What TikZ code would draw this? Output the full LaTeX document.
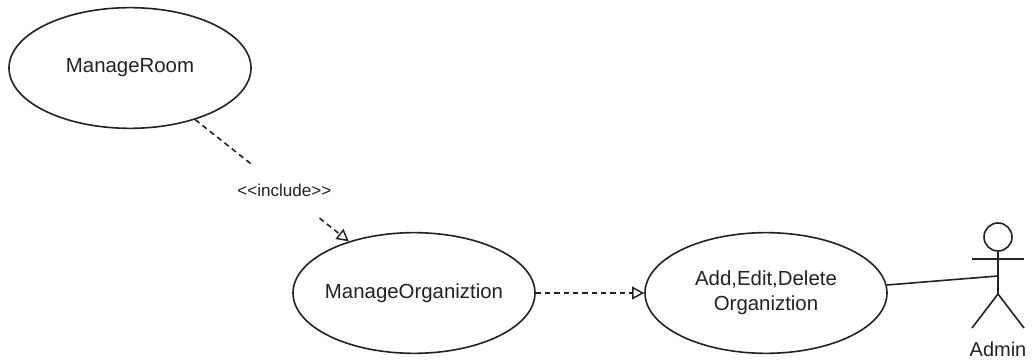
\documentclass[tikz,border=0pt]{standalone}
\usepackage{fontspec}
\setmainfont{Liberation Sans}
\usetikzlibrary{arrows.meta,shapes.geometric}
\definecolor{ink}{HTML}{222222}
\tikzset{
  x=0.75pt,y=-0.75pt,
  usecase/.style={draw=ink,line width=1.2pt,ellipse,inner xsep=-20pt,inner ysep=0pt,minimum width=181.5pt,minimum height=90.5pt,align=center,font=\fontsize{15.3}{18.75}\selectfont,text=ink},
  dep/.style={draw=ink,line width=1.2pt,dash pattern=on 4pt off 3pt,-{Triangle[open,length=9pt,width=9.5pt,line width=1.1pt]}},
  limb/.style={draw=ink,line width=1.2pt},
  lbl/.style={fill=white,font=\fontsize{12.8}{14}\selectfont,text=ink,inner sep=0pt,minimum height=40pt}
}
\begin{document}
\begin{tikzpicture}
\useasboundingbox (0,0) rectangle (1032,363);
\node[usecase] (room) at (130,68) {ManageRoom};
\node[usecase] (org) at (414,293) {ManageOrganiztion};
\node[usecase] (add) at (766,293) {Add,Edit,Delete\\Organiztion};
\node[draw=ink,line width=1.2pt,circle,minimum size=21pt,inner sep=0pt] (head) at (998,237) {};
\coordinate (hip) at (998,294);
\coordinate (waist) at (998,276);
\coordinate (armL) at (972,259);
\coordinate (armR) at (1024,259);
\coordinate (footL) at (972,328);
\coordinate (footR) at (1024,328);
\coordinate (addport) at (887,285);
\draw[limb] (head.south) -- (hip);
\draw[limb] (armL) -- (armR);
\draw[limb] (footL) -- (hip) -- (footR);
\node[font=\fontsize{15}{18}\selectfont,text=ink,inner sep=0pt] (admin) at (998,349) {Admin};
\draw[dep] (room) -- node[lbl,pos=0.58] (inc) {<{}<include>{}>} (org);
\draw[dep] (org) -- (add);
\draw[limb] (addport) -- (waist);
\end{tikzpicture}
\end{document}
